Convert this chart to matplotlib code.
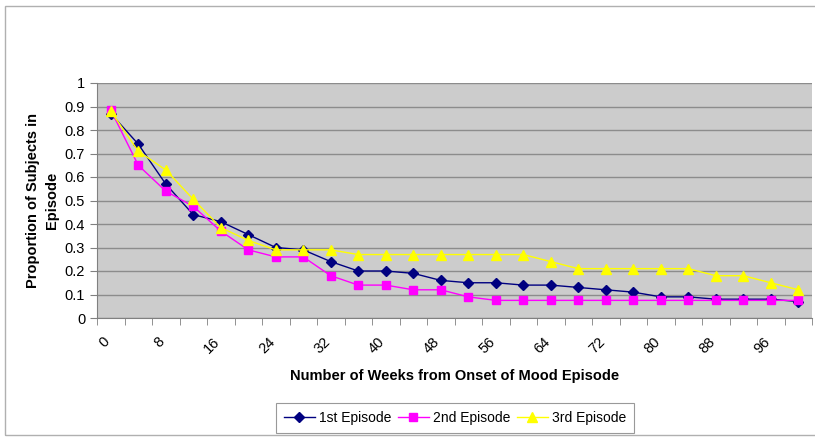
import matplotlib
matplotlib.use("Agg")
from matplotlib import pyplot as plt
from matplotlib.patches import Rectangle
from matplotlib.transforms import ScaledTranslation

weeks = list(range(0, 101, 4))
episode1 = [0.87, 0.74, 0.57, 0.44, 0.41, 0.355, 0.30, 0.29, 0.24, 0.20, 0.20, 0.19, 0.16,
            0.15, 0.15, 0.14, 0.14, 0.13, 0.12, 0.11, 0.09, 0.09, 0.08, 0.08, 0.08, 0.07]
episode2 = [0.885, 0.65, 0.54, 0.475, 0.37, 0.29, 0.26, 0.26, 0.18, 0.14, 0.14, 0.12, 0.12,
            0.09, 0.075, 0.075, 0.075, 0.075, 0.075, 0.075, 0.075, 0.075, 0.075, 0.075, 0.075, 0.075]
episode3 = [0.88, 0.71, 0.63, 0.505, 0.385, 0.33, 0.29, 0.29, 0.29, 0.27, 0.27, 0.27, 0.27,
            0.27, 0.27, 0.27, 0.24, 0.21, 0.21, 0.21, 0.21, 0.21, 0.18, 0.18, 0.15, 0.12]
labels = ["1st Episode", "2nd Episode", "3rd Episode"]

plt.rcParams['font.family'] = ['Liberation Sans', 'DejaVu Sans']


def main():
    fig = plt.figure(figsize=(8.15, 4.37), dpi=100)
    # chart area frame (runs off the right edge like the reference)
    fig.patches.append(Rectangle((5 / 815, 2 / 437), 815 / 815, 429 / 437, transform=fig.transFigure,
                                 fill=False, edgecolor='#b0b0b0', linewidth=1))
    ax = fig.add_axes([97 / 815, 119 / 437, 715 / 815, 235 / 437])
    ax.set_facecolor('#cccccc')

    x = list(range(len(weeks)))
    ax.plot(x, episode1, color='#000080', marker='D', markersize=5, linewidth=1, label=labels[0], zorder=3)
    ax.plot(x, episode2, color='#ff00ff', marker='s', markersize=6, linewidth=1, label=labels[1], zorder=3)
    ax.plot(x, episode3, color='#ffff00', marker='^', markersize=7, linewidth=1, label=labels[2], zorder=3)

    ax.set_xlim(-0.5, len(weeks) - 0.5)
    ax.set_ylim(0, 1)
    ax.set_yticks([i / 10 for i in range(11)])
    ax.set_yticklabels(['0'] + ['%.1f' % (i / 10) for i in range(1, 10)] + ['1'], fontsize=10.5)
    ax.yaxis.grid(True, color='#8c8c8c', linewidth=1)
    ax.set_axisbelow(True)

    ax.set_xticks(x[::2])
    ax.set_xticklabels([str(w) for w in weeks[::2]], rotation=45, fontsize=10.5, ha='right', va='top',
                       rotation_mode='anchor')
    ax.tick_params(axis='x', length=0, pad=12)
    shift = ScaledTranslation(-8 / 100, 0, fig.dpi_scale_trans)
    for lab in ax.get_xticklabels():
        lab.set_transform(lab.get_transform() + shift)
    ax.set_xticks([i - 0.5 for i in range(len(weeks) + 1)], minor=True)
    ax.tick_params(axis='x', which='minor', length=5, color='#808080', direction='out')
    ax.tick_params(axis='y', length=5, color='#808080', direction='out')

    for s in ['top', 'right']:
        ax.spines[s].set_visible(False)
    for s in ['left', 'bottom']:
        ax.spines[s].set_color('#808080')

    ax.set_xlabel('Number of Weeks from Onset of Mood Episode', fontsize=10.5, fontweight='bold', labelpad=9)
    ax.set_ylabel('Proportion of Subjects in\nEpisode', fontsize=10.5, fontweight='bold', labelpad=4,
                  linespacing=1.5)

    leg = fig.legend(loc='center', bbox_to_anchor=(455 / 815, 1 - 418 / 437), ncol=3, fontsize=10,
                     frameon=True, fancybox=False, edgecolor='#808080', handlelength=2.2,
                     columnspacing=0.5, handletextpad=0.3, borderpad=0.55)
    leg.get_frame().set_linewidth(0.8)

    fig.savefig('out.png', dpi=100)


if __name__ == '__main__':
    main()
